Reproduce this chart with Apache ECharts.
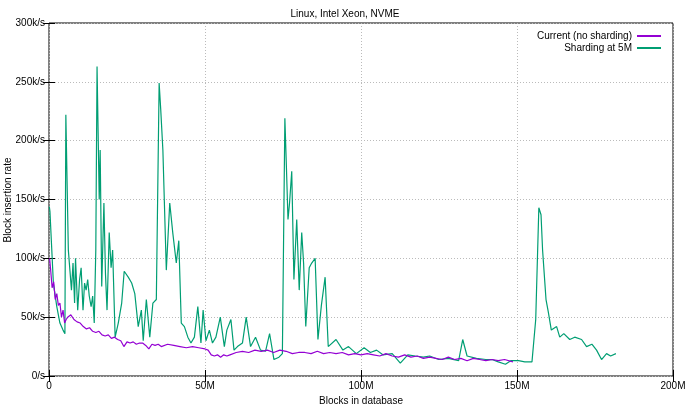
<!DOCTYPE html>
<html><head><meta charset="utf-8">
<script src="https://cdn.jsdelivr.net/npm/echarts@6/dist/echarts.min.js"></script>
<style>html,body{margin:0;padding:0;background:#fff}#c{width:690px;height:404px}</style>
</head><body><div id="c"></div>
<script>
const xTicks = ['0','50M','100M','150M','200M'];
const yTicks = ['0/s','50k/s','100k/s','150k/s','200k/s','250k/s','300k/s'];
const curX = [0.2,0.6,1,1.5,2,2.5,3,3.5,4,4.5,5,5.5,6,7,8,9,10,11,12,13,14,15,16,17,18,19,20,21,22,23,24,25,26,27,28,29,30,31,32,33,34,35,36,38,40,42,44,46,48,50,51,52,53,54,55,56,57,58,60,62,64,66,68,70,72,74,76,78,80,82,84,86,88,90,92,94,96,98,100,102,104,106,108,110,112,114,116,118,120,122,124,126,128,130,132,134,136,138,140,142,144,146,148.7];
const curY = [100,88,75,80,65,70,60,62,50,56,45,48,50,52,48,46,45,42,40,41,38,37,38,35,34,35,32,33,31,30,25,29,28,29,27,28,28,26,23,27,26,27,25,27,26,25,24,25,24,23,22,18,17,18,16,18,17,18,20,21,20,22,21,22,20,22,21,19,20,20,19,21,19,20,19,20,18,19,18,19,18,17,19,17,16,18,16,17,15,16,15,14,16,14,15,13,15,14,13,14,13,14,12,13,13];
const shX = [0.1,0.3,1.4,2.5,3.5,4.5,5.1,5.4,6.2,6.7,7.2,7.7,8.2,8.5,9.2,9.8,10.3,10.9,11.4,11.9,12.4,12.9,13.5,14,14.5,15,15.4,16.1,16.4,16.9,17.6,18.1,18.6,19.3,19.9,20.4,21.2,22.2,23.3,24.1,25.4,26.5,27.5,28.6,29.6,30.2,31.2,32.3,33.3,34.4,35.3,35.8,36.5,37.6,38.7,39.7,40.8,41.6,42.4,43.4,44.5,45.5,46.6,47.7,48.7,49.4,50.3,51.4,52.4,53.5,54.9,56.2,57,58.3,59.3,60.4,62,63.2,64.6,66.2,67.8,69.4,70.7,72.1,73.7,74.8,75.6,76.1,76.6,77.1,77.8,78.5,79.4,80.2,81,81.6,82.3,83.4,84.2,85.3,86.2,87.3,88.5,89.5,92,94.2,96,98.5,101,103,105,107,110,112.6,115,117.4,120,122,124.9,128,131.3,132.6,134,137,140,142,144,146.3,148,150.5,152.5,154.8,156,157,157.7,158.2,158.6,159.3,160,161,162.7,163.7,165,166.9,168.5,170.7,172.3,174,175.5,177.1,178.7,180,181.7];
const shY = [144,140,79,59,45,39,36,222,107,90,73,96,62,100,56,82,92,56,79,73,82,68,59,68,45,107,263,150,192,76,147,87,56,122,92,107,33,45,62,89,84,79,70,42,56,30,65,33,62,65,249,227,192,90,147,121,96,115,45,42,33,28,33,59,28,56,30,39,28,33,50,25,39,48,22,25,28,50,25,33,22,21,36,14,16,19,219,177,133,147,174,82,133,73,122,96,42,92,96,100,31,60,84,25,31,22,25,19,24,20,22,18,19,11,18,17,16,17,14,15,13,31,17,15,14,14,12,10,13,13,12,12,48,143,137,107,108,65,55,39,42,33,36,31,33,31,25,27,22,14,19,17,19];
const pair = (xs, ys) => xs.map((x, i) => [x, ys[i]]);
const font = 'Liberation Sans, Arial, sans-serif';
const grid = {left:49,right:17,top:23,bottom:28,containLabel:false,outerBoundsMode:'none',show:true,borderColor:'#000',borderWidth:1,backgroundColor:'transparent'};
const axX = (pos, lab) => ({type:'value',position:pos,min:0,max:200,interval:50,
  axisLine:{show:false},axisTick:{inside:true,length:6,lineStyle:{color:'#000'}},
  axisLabel:{show:lab,color:'#000',fontSize:10,fontFamily:font,margin:5,formatter:(v)=>xTicks[v/50]},
  splitLine:{show:lab,lineStyle:{color:'#bbb',type:[1,2]}},
  name:lab?'Blocks in database':'',nameLocation:'middle',nameGap:16,nameTextStyle:{color:'#000',fontSize:10,fontFamily:font}});
const axY = (pos, lab) => ({type:'value',position:pos,min:0,max:300,interval:50,
  axisLine:{show:false},axisTick:{inside:true,length:6,lineStyle:{color:'#000'}},
  axisLabel:{show:lab,color:'#000',fontSize:10,fontFamily:font,margin:4,formatter:(v)=>yTicks[v/50]},
  splitLine:{show:lab,lineStyle:{color:'#bbb',type:[1,2]}}});
const chart = echarts.init(document.getElementById('c'));
chart.setOption({
  animation:false,
  title:{text:'Linux, Intel Xeon, NVME',left:'center',top:4,textStyle:{fontSize:10,fontWeight:'normal',color:'#000',fontFamily:font}},
  legend:{right:24,top:26,orient:'vertical',align:'right',itemWidth:24,itemHeight:2,itemGap:2,
    icon:'rect',textStyle:{fontSize:10,color:'#000',fontFamily:font},
    data:['Current (no sharding)','Sharding at 5M']},
  graphic:[{type:'text',x:8,y:200,rotation:Math.PI/2,style:{text:'Block insertion rate',fill:'#000',font:'10px '+font,align:'center',verticalAlign:'middle'}}],
  grid:grid,
  xAxis:[axX('bottom',true),axX('top',false)],
  yAxis:[axY('left',true),axY('right',false)],
  series:[
    {name:'Sharding at 5M',type:'line',data:pair(shX,shY),showSymbol:false,lineStyle:{width:1.2,color:'#009e73'},itemStyle:{color:'#009e73'}},
    {name:'Current (no sharding)',type:'line',data:pair(curX,curY),showSymbol:false,lineStyle:{width:1.2,color:'#9400d3'},itemStyle:{color:'#9400d3'}}
  ]
});
</script></body></html>
